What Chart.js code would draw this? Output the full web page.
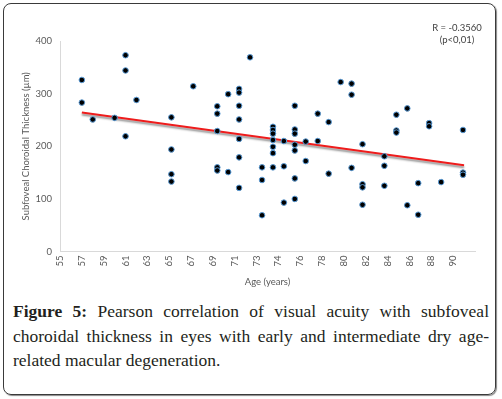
<!DOCTYPE html>
<html>
<head>
<meta charset="utf-8">
<script src="https://cdn.jsdelivr.net/npm/chart.js@4.4.1/dist/chart.umd.min.js"></script>
<style>
  html, body { margin: 0; padding: 0; background: #fff; }
  #frame {
    position: absolute; left: 3px; top: 3px; width: 491px; height: 390px;
    border: 1.5px solid #3a3a3a; border-radius: 8px;
    box-shadow: 1px 1px 1px #888;
  }
  #wrap { position: absolute; left: 0; top: 0; width: 502px; height: 292px; }
  #stat {
    position: absolute; left: 417px; top: 22px; width: 80px;
    text-align: center; font: 9.5px Lato, sans-serif; color: #404040; line-height: 12px;
  }
  #caption {
    position: absolute; left: 13px; top: 299px; width: 476px;
    font: 17.5px "Liberation Serif", serif; color: #231f20; line-height: 24.5px;
  }
  #caption div { text-align: justify; text-align-last: justify; white-space: nowrap; }
  #caption div.last { text-align-last: left; }
</style>
</head>
<body>
<div id="frame"></div>
<div id="wrap"><canvas id="chart"></canvas></div>
<div id="stat">R = -0.3560<br>(p&lt;0,01)</div>
<div id="caption">
  <div><b>Figure 5:</b> Pearson correlation of visual acuity with subfoveal</div>
  <div>choroidal thickness in eyes with early and intermediate dry age-</div>
  <div class="last">related macular degeneration.</div>
</div>
<script>
// ages (years) and subfoveal choroidal thickness (µm)
const ages = [
  57, 57, 58, 60, 61, 61, 61, 62, 67.2, 65.2, 65.2, 65.2, 65.2,
  72.4, 70.4, 71.4, 71.4, 71.4, 71.4, 71.4, 71.4, 71.4,
  69.4, 69.4, 69.4, 69.4, 69.4, 70.4,
  73.5, 73.5, 73.5,
  74.5, 74.5, 74.5, 74.5, 74.5, 74.5, 74.5,
  75.5, 75.5, 75.5,
  76.5, 76.5, 76.5, 76.5, 76.5, 76.5, 76.5,
  77.5, 77.5, 78.6, 78.6, 79.6, 79.6, 80.7,
  81.7, 81.7, 81.7, 82.7, 82.7, 82.7, 82.7,
  84.7, 84.7, 84.7, 85.8, 85.8, 85.8, 86.8, 86.8, 87.8, 87.8,
  88.8, 88.8, 89.9, 91.9, 91.9, 91.9
];
const thickness = [
  326, 283, 251, 254, 373, 344, 219, 288, 314, 255, 194, 147, 133,
  369, 299, 309, 302, 277, 251, 214, 179, 121,
  276, 262, 229, 160, 154, 151,
  160, 136, 69,
  237, 231, 224, 212, 199, 187, 160,
  210, 162, 93,
  277, 232, 224, 203, 192, 139, 100,
  209, 172, 262, 210, 246, 148, 322,
  319, 298, 159, 204, 128, 122, 89,
  181, 163, 125, 260, 230, 226, 272, 88, 130, 70,
  244, 238, 132, 231, 150, 146
];

// linear trend line end points
const trendAges = [57, 92];
const trendThickness = [264, 164];

const xTickLabels = ['55', '57', '59', '61', '63', '65', '67', '69', '71', '73',
  '74', '76', '78', '80', '82', '84', '86', '88', '90'];

const axisFont = { family: 'Lato, sans-serif', size: 9.5 };
const axisColor = '#595959';

// gray drop shadow under the trend line
const shadowPlugin = {
  id: 'trendShadow',
  beforeDatasetDraw(chart, args) {
    if (args.index !== 1) return;
    const ctx = chart.ctx;
    ctx.save();
    ctx.shadowColor = 'rgba(0,0,0,0.45)';
    ctx.shadowOffsetY = 2;
    ctx.shadowBlur = 2;
  },
  afterDatasetDraw(chart, args) {
    if (args.index !== 1) return;
    chart.ctx.restore();
  }
};

new Chart(document.getElementById('chart'), {
  type: 'scatter',
  data: {
    datasets: [{
      label: 'Eyes',
      data: ages.map((a, i) => ({ x: a, y: thickness[i] })),
      backgroundColor: '#000',
      borderColor: '#5b9bd5',
      borderWidth: 1,
      pointRadius: 2.8,
      order: 1
    }, {
      type: 'line',
      label: 'Trend',
      data: trendAges.map((a, i) => ({ x: a, y: trendThickness[i] })),
      borderColor: '#ee1c1c',
      borderWidth: 2,
      pointRadius: 0,
      fill: false,
      order: 2
    }]
  },
  options: {
    responsive: true,
    maintainAspectRatio: false,
    animation: false,
    layout: { padding: { left: 16, top: 41, right: 27, bottom: 0 } },
    plugins: { legend: { display: false }, tooltip: { enabled: false } },
    scales: {
      x: {
        type: 'linear',
        min: 55,
        max: 93,
        afterBuildTicks: s => { s.ticks = s.ticks.filter(t => t.value <= 91); },
        ticks: {
          stepSize: 2,
          autoSkip: false,
          minRotation: 90,
          maxRotation: 90,
          padding: 4,
          color: axisColor,
          font: axisFont,
          callback: (v, i) => xTickLabels[i]
        },
        grid: { display: false, drawTicks: false },
        border: { color: '#d9d9d9', width: 1 },
        title: {
          display: true, text: 'Age (years)', color: axisColor, font: axisFont,
          padding: { top: 6, bottom: 4 }
        }
      },
      y: {
        min: 0,
        max: 400,
        afterFit: s => { s.width = 44; },
        ticks: { stepSize: 100, padding: 8, color: axisColor, font: axisFont },
        grid: { display: false, drawTicks: false },
        border: { color: '#d9d9d9', width: 1 },
        title: {
          display: true, text: 'Subfoveal Choroidal Thickness (µm)',
          color: axisColor, font: axisFont, padding: 4
        }
      }
    }
  },
  plugins: [shadowPlugin]
});
</script>
</body>
</html>
